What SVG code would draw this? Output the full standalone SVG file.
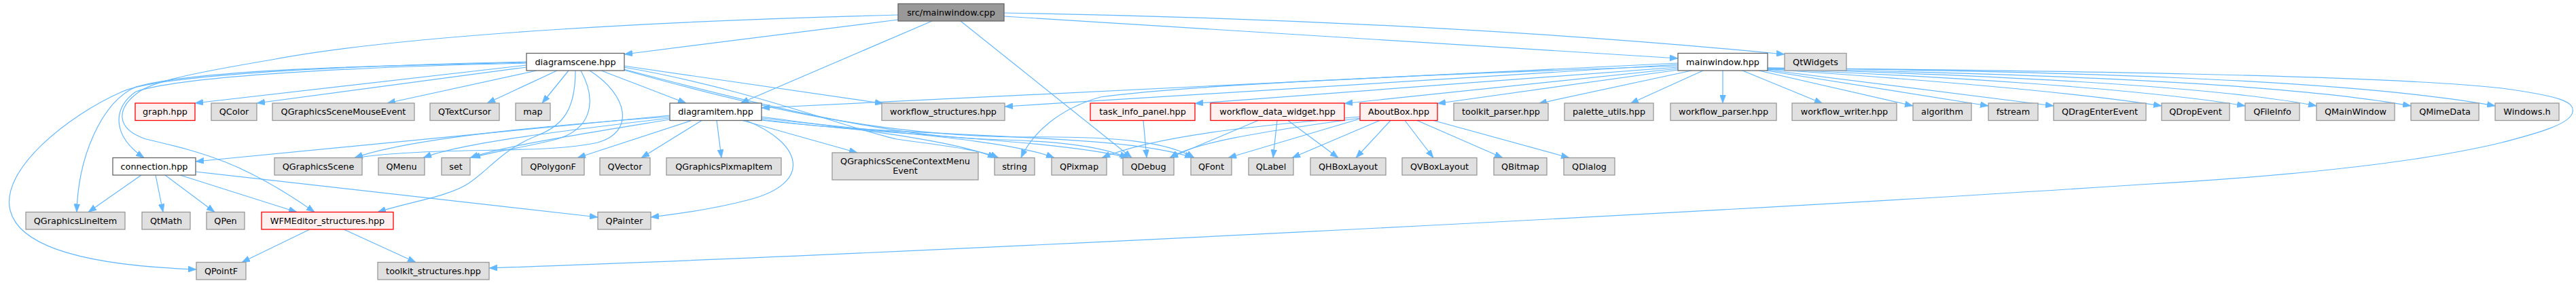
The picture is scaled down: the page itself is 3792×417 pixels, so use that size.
<svg xmlns="http://www.w3.org/2000/svg" width="3792" height="417" viewBox="0 0 3792 417">
<style>
.node rect{stroke-width:1.3}
.ext rect{fill:#e0e0e0;stroke:#999999}
.red rect{fill:#fff0f0;stroke:#ff0000}
.wht rect{fill:#ffffff;stroke:#666666}
.root rect{fill:#999999;stroke:#666666}
.node text{font-family:"DejaVu Sans","Liberation Sans",sans-serif;font-size:12.8px;fill:#000;text-anchor:middle}
#edges path{fill:none;stroke:#63b8ff;stroke-width:1.2;marker-end:url(#ah)}
</style>
<defs>
<marker id="ah" markerUnits="userSpaceOnUse" markerWidth="12" markerHeight="9" refX="12" refY="4.5" orient="auto" viewBox="0 0 12 9">
<path d="M0,0 L12,4.5 L0,9 z" fill="#63b8ff" stroke="#63b8ff" stroke-width="0.6"/>
</marker>
</defs>
<rect width="3792" height="417" fill="#ffffff"/>
<g id="edges">
<path d="M1478,24 L2470,86"/>
<path d="M1478,19 C1900,26 2300,48 2627,80"/>
<path d="M1322,29 L919,80"/>
<path d="M1372,31 L1090,152"/>
<path d="M1414,31 L1666,232.5"/>
<path d="M1322,22 C1000,30 600,50 400,88 C300,105 230,118 205,135 C170,160 170,190 215,205 C300,225 360,240 463,312.5"/>
<path d="M775,96 L287,152"/>
<path d="M775,99 L378,152"/>
<path d="M790,104 L570,152"/>
<path d="M820,104 L717,152"/>
<path d="M837,104 L798,152"/>
<path d="M885,104 L1010,152"/>
<path d="M775,92 C600,96 300,100 200,128 C150,150 115,230 113,312.5"/>
<path d="M775,91 C600,95 250,105 180,135 C100,170 0,250 15,310 C30,370 150,392 289,397"/>
<path d="M775,93 C600,97 280,108 200,135 C165,160 165,200 212,232.5"/>
<path d="M847,104 C847,160 830,185 790,200 C740,220 720,250 690,270 C660,290 600,298 556,312.5"/>
<path d="M855,104 C880,150 870,190 820,205 C770,218 730,222 695,232.5"/>
<path d="M868,104 C925,140 935,195 880,210 C800,228 650,215 522,232.5"/>
<path d="M918,97 L1300,152.5"/>
<path d="M918,99 C1100,130 1250,190 1320,205 C1390,215 1440,220 1470,232.5"/>
<path d="M918,102 C1100,150 1300,200 1450,205 C1560,208 1620,215 1660,232.5"/>
<path d="M918,103 C1120,160 1300,200 1500,202 C1650,200 1720,210 1758,232.5"/>
<path d="M986,170 L288,238"/>
<path d="M986,172 C800,185 600,205 522,232.5"/>
<path d="M986,174 C850,190 680,210 623,232.5"/>
<path d="M986,176 C870,195 740,215 692,232.5"/>
<path d="M1018,177.5 L850,232.5"/>
<path d="M1033,177.5 L944,232.5"/>
<path d="M1055,177.5 L1062,232.5"/>
<path d="M1093,177.5 L1262,225"/>
<path d="M1098,177.5 C1180,210 1200,270 1100,295 C1050,308 1000,315 958,320"/>
<path d="M1121,172 C1250,190 1400,205 1466,232.5"/>
<path d="M1121,174 C1300,195 1480,205 1552,232.5"/>
<path d="M1121,176 C1300,200 1550,205 1662,232.5"/>
<path d="M1121,177 C1350,205 1650,195 1756,232.5"/>
<path d="M2470,93 L1121,159"/>
<path d="M2470,95 L1479,157"/>
<path d="M2470,97 C2100,110 1750,125 1620,143 C1560,160 1520,195 1503,232.5"/>
<path d="M2470,99 L1759,152.5"/>
<path d="M2470,101 L1979,152.5"/>
<path d="M2470,103 L2116,152.5"/>
<path d="M2490,104 L2265,152.5"/>
<path d="M2507,104 L2400,152.5"/>
<path d="M2536,104 L2536,152"/>
<path d="M2565,104 L2683,152.5"/>
<path d="M2589,104 L2816,156"/>
<path d="M2600,104 L2927,156"/>
<path d="M2602,103 L3023,156"/>
<path d="M2602,102 C2800,115 3050,135 3182,156"/>
<path d="M2602,102 C2850,112 3150,130 3305,156"/>
<path d="M2602,101 C2900,110 3250,125 3410,156"/>
<path d="M2602,101 C2950,108 3350,120 3549,156"/>
<path d="M2602,100 C3000,105 3450,115 3673,156"/>
<path d="M2602,100 C3000,104 3500,110 3683,130 C3770,142 3790,150 3787,165 C3784,185 3720,200 3683,210 C3600,230 3450,255 3150,272 C2500,315 1300,375 720,395"/>
<path d="M2031,177.5 L1902,232.5"/>
<path d="M2047,177.5 L1996,232.5"/>
<path d="M2068,177.5 L2110,232.5"/>
<path d="M2086,177.5 L2212,232.5"/>
<path d="M2110,177.5 L2310,232.5"/>
<path d="M2002,175 L1808,232.5"/>
<path d="M2002,172 C1850,185 1700,200 1622,232.5"/>
<path d="M2002,174 C1850,195 1760,210 1722,232.5"/>
<path d="M1852,177.5 L1722,232.5"/>
<path d="M1880,177.5 L1874,232.5"/>
<path d="M1896,177.5 L1970,232.5"/>
<path d="M1683,177.5 L1688,232.5"/>
<path d="M208,258 L130,312.5"/>
<path d="M229,258 L240,312.5"/>
<path d="M243,258 L316,312.5"/>
<path d="M265,258 L437,312.5"/>
<path d="M288,253 L880,320"/>
<path d="M456,338 L356,386.5"/>
<path d="M506,338 L612,386.5"/>
</g>
<g id="n_mainwindow_cpp" class="node root"><rect x="1322" y="5.5" width="156" height="25.5"/><text x="1400" y="22.8">src/mainwindow.cpp</text></g>
<g id="n_diagramscene" class="node wht"><rect x="775" y="78.5" width="144" height="25.5"/><text x="847" y="95.8">diagramscene.hpp</text></g>
<g id="n_mainwindow_hpp" class="node wht"><rect x="2470" y="78.5" width="132" height="25.5"/><text x="2536" y="95.8">mainwindow.hpp</text></g>
<g id="n_QtWidgets" class="node ext"><rect x="2627" y="78.5" width="91" height="25.5"/><text x="2672.5" y="95.8">QtWidgets</text></g>
<g id="n_graph" class="node red"><rect x="199" y="152" width="88" height="25.5"/><text x="243" y="169.3">graph.hpp</text></g>
<g id="n_QColor" class="node ext"><rect x="311" y="152" width="67" height="25.5"/><text x="344.5" y="169.3">QColor</text></g>
<g id="n_QGraphicsSceneMouseEvent" class="node ext"><rect x="401" y="152" width="209" height="25.5"/><text x="505.5" y="169.3">QGraphicsSceneMouseEvent</text></g>
<g id="n_QTextCursor" class="node ext"><rect x="633" y="152" width="102" height="25.5"/><text x="684" y="169.3">QTextCursor</text></g>
<g id="n_map" class="node ext"><rect x="759" y="152" width="51" height="25.5"/><text x="784.5" y="169.3">map</text></g>
<g id="n_diagramitem" class="node wht"><rect x="986" y="152" width="135" height="25.5"/><text x="1053.5" y="169.3">diagramitem.hpp</text></g>
<g id="n_workflow_structures" class="node ext"><rect x="1298" y="152" width="181" height="25.5"/><text x="1388.5" y="169.3">workflow_structures.hpp</text></g>
<g id="n_task_info_panel" class="node red"><rect x="1605" y="152" width="154" height="25.5"/><text x="1682" y="169.3">task_info_panel.hpp</text></g>
<g id="n_workflow_data_widget" class="node red"><rect x="1782" y="152" width="197" height="25.5"/><text x="1880.5" y="169.3">workflow_data_widget.hpp</text></g>
<g id="n_AboutBox" class="node red"><rect x="2002" y="152" width="114" height="25.5"/><text x="2059" y="169.3">AboutBox.hpp</text></g>
<g id="n_toolkit_parser" class="node ext"><rect x="2140" y="152" width="139" height="25.5"/><text x="2209.5" y="169.3">toolkit_parser.hpp</text></g>
<g id="n_palette_utils" class="node ext"><rect x="2303" y="152" width="131" height="25.5"/><text x="2368.5" y="169.3">palette_utils.hpp</text></g>
<g id="n_workflow_parser" class="node ext"><rect x="2459" y="152" width="156" height="25.5"/><text x="2537" y="169.3">workflow_parser.hpp</text></g>
<g id="n_workflow_writer" class="node ext"><rect x="2638" y="152" width="154" height="25.5"/><text x="2715" y="169.3">workflow_writer.hpp</text></g>
<g id="n_algorithm" class="node ext"><rect x="2816" y="152" width="86" height="25.5"/><text x="2859" y="169.3">algorithm</text></g>
<g id="n_fstream" class="node ext"><rect x="2927" y="152" width="73" height="25.5"/><text x="2963.5" y="169.3">fstream</text></g>
<g id="n_QDragEnterEvent" class="node ext"><rect x="3023" y="152" width="136" height="25.5"/><text x="3091" y="169.3">QDragEnterEvent</text></g>
<g id="n_QDropEvent" class="node ext"><rect x="3182" y="152" width="100" height="25.5"/><text x="3232" y="169.3">QDropEvent</text></g>
<g id="n_QFileInfo" class="node ext"><rect x="3305" y="152" width="80" height="25.5"/><text x="3345" y="169.3">QFileInfo</text></g>
<g id="n_QMainWindow" class="node ext"><rect x="3410" y="152" width="115" height="25.5"/><text x="3467.5" y="169.3">QMainWindow</text></g>
<g id="n_QMimeData" class="node ext"><rect x="3549" y="152" width="100" height="25.5"/><text x="3599" y="169.3">QMimeData</text></g>
<g id="n_Windows_h" class="node ext"><rect x="3673" y="152" width="94" height="25.5"/><text x="3720" y="169.3">Windows.h</text></g>
<g id="n_connection" class="node wht"><rect x="166" y="232.5" width="122" height="25.5"/><text x="227" y="249.8">connection.hpp</text></g>
<g id="n_QGraphicsScene" class="node ext"><rect x="404" y="232.5" width="129" height="25.5"/><text x="468.5" y="249.8">QGraphicsScene</text></g>
<g id="n_QMenu" class="node ext"><rect x="557" y="232.5" width="68" height="25.5"/><text x="591" y="249.8">QMenu</text></g>
<g id="n_set" class="node ext"><rect x="650" y="232.5" width="42" height="25.5"/><text x="671" y="249.8">set</text></g>
<g id="n_QPolygonF" class="node ext"><rect x="768" y="232.5" width="92" height="25.5"/><text x="814" y="249.8">QPolygonF</text></g>
<g id="n_QVector" class="node ext"><rect x="883" y="232.5" width="74" height="25.5"/><text x="920" y="249.8">QVector</text></g>
<g id="n_QGraphicsPixmapItem" class="node ext"><rect x="981" y="232.5" width="169" height="25.5"/><text x="1065.5" y="249.8">QGraphicsPixmapItem</text></g>
<g id="n_QGraphicsSceneContextMenuEvent" class="node ext"><rect x="1225" y="225" width="215" height="40"/><text x="1332.5" y="241.5">QGraphicsSceneContextMenu</text><text x="1332.5" y="256">Event</text></g>
<g id="n_string" class="node ext"><rect x="1464" y="232.5" width="59" height="25.5"/><text x="1493.5" y="249.8">string</text></g>
<g id="n_QPixmap" class="node ext"><rect x="1548" y="232.5" width="81" height="25.5"/><text x="1588.5" y="249.8">QPixmap</text></g>
<g id="n_QDebug" class="node ext"><rect x="1653" y="232.5" width="75" height="25.5"/><text x="1690.5" y="249.8">QDebug</text></g>
<g id="n_QFont" class="node ext"><rect x="1753" y="232.5" width="60" height="25.5"/><text x="1783" y="249.8">QFont</text></g>
<g id="n_QLabel" class="node ext"><rect x="1838" y="232.5" width="66" height="25.5"/><text x="1871" y="249.8">QLabel</text></g>
<g id="n_QHBoxLayout" class="node ext"><rect x="1929" y="232.5" width="111" height="25.5"/><text x="1984.5" y="249.8">QHBoxLayout</text></g>
<g id="n_QVBoxLayout" class="node ext"><rect x="2064" y="232.5" width="110" height="25.5"/><text x="2119" y="249.8">QVBoxLayout</text></g>
<g id="n_QBitmap" class="node ext"><rect x="2199" y="232.5" width="78" height="25.5"/><text x="2238" y="249.8">QBitmap</text></g>
<g id="n_QDialog" class="node ext"><rect x="2302" y="232.5" width="75" height="25.5"/><text x="2339.5" y="249.8">QDialog</text></g>
<g id="n_QGraphicsLineItem" class="node ext"><rect x="38" y="312.5" width="146" height="25.5"/><text x="111" y="329.8">QGraphicsLineItem</text></g>
<g id="n_QtMath" class="node ext"><rect x="209" y="312.5" width="71" height="25.5"/><text x="244.5" y="329.8">QtMath</text></g>
<g id="n_QPen" class="node ext"><rect x="304" y="312.5" width="56" height="25.5"/><text x="332" y="329.8">QPen</text></g>
<g id="n_WFMEditor_structures" class="node red"><rect x="385" y="312.5" width="194" height="25.5"/><text x="482" y="329.8">WFMEditor_structures.hpp</text></g>
<g id="n_QPainter" class="node ext"><rect x="880" y="312.5" width="78" height="25.5"/><text x="919" y="329.8">QPainter</text></g>
<g id="n_QPointF" class="node ext"><rect x="289" y="386.5" width="73" height="25.5"/><text x="325.5" y="403.8">QPointF</text></g>
<g id="n_toolkit_structures" class="node ext"><rect x="556" y="386.5" width="164" height="25.5"/><text x="638" y="403.8">toolkit_structures.hpp</text></g>
</svg>
